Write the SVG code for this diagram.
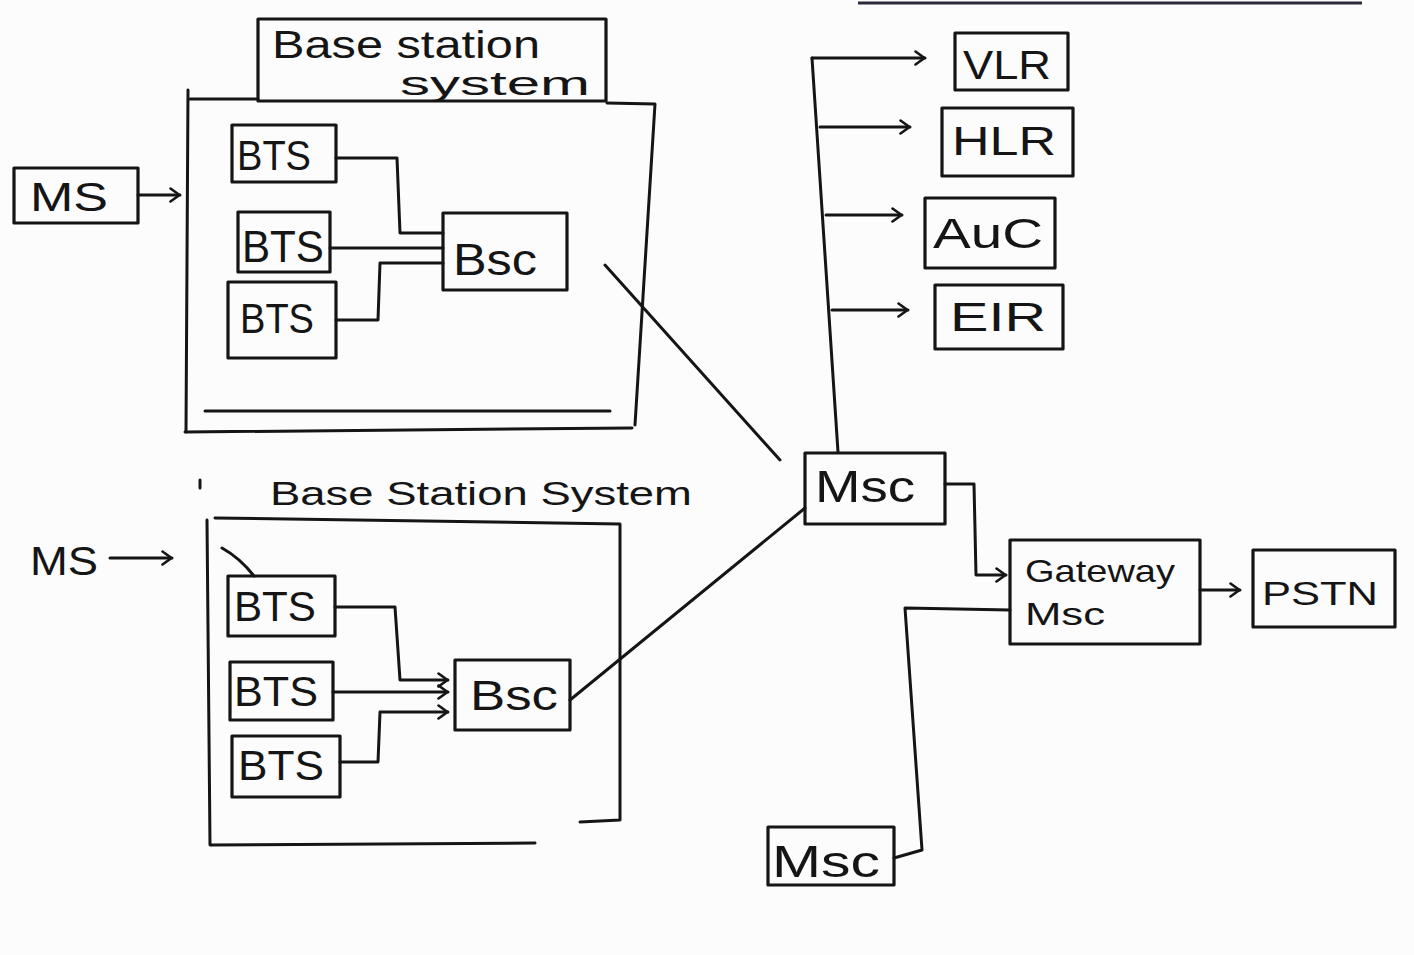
<svg xmlns="http://www.w3.org/2000/svg" width="1414" height="955" viewBox="0 0 1414 955">
<defs>
<style>
.ln{fill:none;stroke:#151515;stroke-width:3;stroke-linecap:round;stroke-linejoin:round}
.bx{fill:none;stroke:#151515;stroke-width:3.2;stroke-linejoin:round}
.t{font-family:"Liberation Sans","DejaVu Sans",sans-serif;fill:#151515}
</style>
<marker id="ch" viewBox="0 0 12 16" refX="11" refY="8" markerWidth="12" markerHeight="16" markerUnits="userSpaceOnUse" orient="auto">
<path d="M1.5,1.5 L10.5,8 L1.5,14.5" fill="none" stroke="#151515" stroke-width="2.6" stroke-linecap="round"/>
</marker>
</defs>
<rect width="1414" height="955" fill="#fcfcfc"/>
<line x1="858" y1="3" x2="1362" y2="3" stroke="#2a2a3a" stroke-width="3"/>

<!-- Top base station system -->
<g id="bss1-frame">
<path class="ln" d="M188,90 L186,432"/>
<path class="ln" d="M190,99 L258,99"/>
<path class="ln" d="M607,103 L655,104 L635,425"/>
<path class="ln" d="M205,411 L610,411"/>
<path class="ln" d="M185,432 L632,428"/>
</g>
<g id="bss1-label">
<rect class="bx" x="258" y="19" width="348" height="82"/>
<text class="t" x="272" y="58" font-size="38" textLength="268" lengthAdjust="spacingAndGlyphs">Base station</text>
<text class="t" x="400" y="95" font-size="34" textLength="190" lengthAdjust="spacingAndGlyphs">system</text>
</g>
<g id="ms1">
<rect class="bx" x="14" y="168" width="124" height="55"/>
<text class="t" x="30" y="211" font-size="40" textLength="78" lengthAdjust="spacingAndGlyphs">MS</text>
</g>
<g id="bts1a">
<rect class="bx" x="232" y="125" width="104" height="57"/>
<text class="t" x="237" y="170" font-size="42" textLength="74" lengthAdjust="spacingAndGlyphs">BTS</text>
</g>
<g id="bts1b">
<rect class="bx" x="238" y="212" width="92" height="60"/>
<text class="t" x="242" y="262" font-size="44" textLength="82" lengthAdjust="spacingAndGlyphs">BTS</text>
</g>
<g id="bts1c">
<rect class="bx" x="228" y="282" width="108" height="76"/>
<text class="t" x="240" y="333" font-size="42" textLength="74" lengthAdjust="spacingAndGlyphs">BTS</text>
</g>
<g id="bsc1">
<rect class="bx" x="443" y="213" width="124" height="77"/>
<text class="t" x="453" y="275" font-size="44" textLength="84" lengthAdjust="spacingAndGlyphs">Bsc</text>
</g>

<!-- Right side -->
<g id="vlr">
<rect class="bx" x="955" y="33" width="113" height="57"/>
<text class="t" x="963" y="79" font-size="40" textLength="88" lengthAdjust="spacingAndGlyphs">VLR</text>
</g>
<g id="hlr">
<rect class="bx" x="942" y="108" width="131" height="68"/>
<text class="t" x="952" y="155" font-size="40" textLength="104" lengthAdjust="spacingAndGlyphs">HLR</text>
</g>
<g id="auc">
<rect class="bx" x="925" y="198" width="130" height="70"/>
<text class="t" x="933" y="248" font-size="42" textLength="110" lengthAdjust="spacingAndGlyphs">AuC</text>
</g>
<g id="eir">
<rect class="bx" x="935" y="285" width="128" height="64"/>
<text class="t" x="950" y="331" font-size="40" textLength="96" lengthAdjust="spacingAndGlyphs">EIR</text>
</g>
<g id="msc1">
<rect class="bx" x="805" y="453" width="140" height="71"/>
<text class="t" x="815" y="502" font-size="44" textLength="100" lengthAdjust="spacingAndGlyphs">Msc</text>
</g>
<g id="gmsc">
<rect class="bx" x="1010" y="540" width="190" height="104"/>
<text class="t" x="1025" y="582" font-size="32" textLength="150" lengthAdjust="spacingAndGlyphs">Gateway</text>
<text class="t" x="1025" y="625" font-size="32" textLength="80" lengthAdjust="spacingAndGlyphs">Msc</text>
</g>
<g id="pstn">
<rect class="bx" x="1253" y="550" width="142" height="77"/>
<text class="t" x="1262" y="605" font-size="34" textLength="116" lengthAdjust="spacingAndGlyphs">PSTN</text>
</g>
<g id="msc2">
<rect class="bx" x="768" y="827" width="126" height="58"/>
<text class="t" x="772" y="877" font-size="44" textLength="108" lengthAdjust="spacingAndGlyphs">Msc</text>
</g>

<!-- Bottom base station system -->
<g id="bss2-label">
<text class="t" x="270" y="505" font-size="34" textLength="422" lengthAdjust="spacingAndGlyphs">Base Station System</text>
<line class="ln" x1="200" y1="480" x2="200" y2="488"/>
</g>
<g id="ms2">
<text class="t" x="30" y="575" font-size="40" textLength="68" lengthAdjust="spacingAndGlyphs">MS</text>
</g>
<g id="bss2-frame">
<path class="ln" d="M207,520 L210,845 L535,843"/>
<path class="ln" d="M215,518 L620,524 L620,820 L580,822"/>
<path class="ln" d="M222,548 Q240,558 254,576"/>
</g>
<g id="bts2a">
<rect class="bx" x="228" y="576" width="107" height="60"/>
<text class="t" x="234" y="621" font-size="42" textLength="82" lengthAdjust="spacingAndGlyphs">BTS</text>
</g>
<g id="bts2b">
<rect class="bx" x="230" y="662" width="103" height="58"/>
<text class="t" x="234" y="706" font-size="42" textLength="84" lengthAdjust="spacingAndGlyphs">BTS</text>
</g>
<g id="bts2c">
<rect class="bx" x="232" y="736" width="108" height="61"/>
<text class="t" x="238" y="780" font-size="42" textLength="86" lengthAdjust="spacingAndGlyphs">BTS</text>
</g>
<g id="bsc2">
<rect class="bx" x="455" y="660" width="115" height="70"/>
<text class="t" x="470" y="710" font-size="42" textLength="88" lengthAdjust="spacingAndGlyphs">Bsc</text>
</g>

<g id="connectors">
<line class="ln" x1="138" y1="195" x2="180" y2="195" marker-end="url(#ch)"/>
<path class="ln" d="M336,158 L397,158 L400,233 L443,233"/>
<path class="ln" d="M330,248 L443,248"/>
<path class="ln" d="M336,320 L378,320 L380,263 L443,263"/>
<path class="ln" d="M605,265 L780,460"/>
<path class="ln" d="M812,58 L838,452"/>
<line class="ln" x1="812" y1="58" x2="925" y2="58" marker-end="url(#ch)"/>
<line class="ln" x1="820" y1="127" x2="910" y2="127" marker-end="url(#ch)"/>
<line class="ln" x1="826" y1="215" x2="902" y2="215" marker-end="url(#ch)"/>
<line class="ln" x1="832" y1="310" x2="908" y2="310" marker-end="url(#ch)"/>
<path class="ln" d="M945,484 L974,484 L976,575 L1006,575" marker-end="url(#ch)"/>
<line class="ln" x1="1200" y1="590" x2="1240" y2="590" marker-end="url(#ch)"/>
<path class="ln" d="M894,858 L922,850 L905,608 L1010,610"/>
<path class="ln" d="M570,700 L805,508"/>
<line class="ln" x1="110" y1="558" x2="172" y2="558" marker-end="url(#ch)"/>
<path class="ln" d="M335,607 L395,607 L400,680 L448,680" marker-end="url(#ch)"/>
<line class="ln" x1="333" y1="692" x2="448" y2="692" marker-end="url(#ch)"/>
<path class="ln" d="M340,762 L378,762 L380,712 L448,712" marker-end="url(#ch)"/>
</g>
</svg>
